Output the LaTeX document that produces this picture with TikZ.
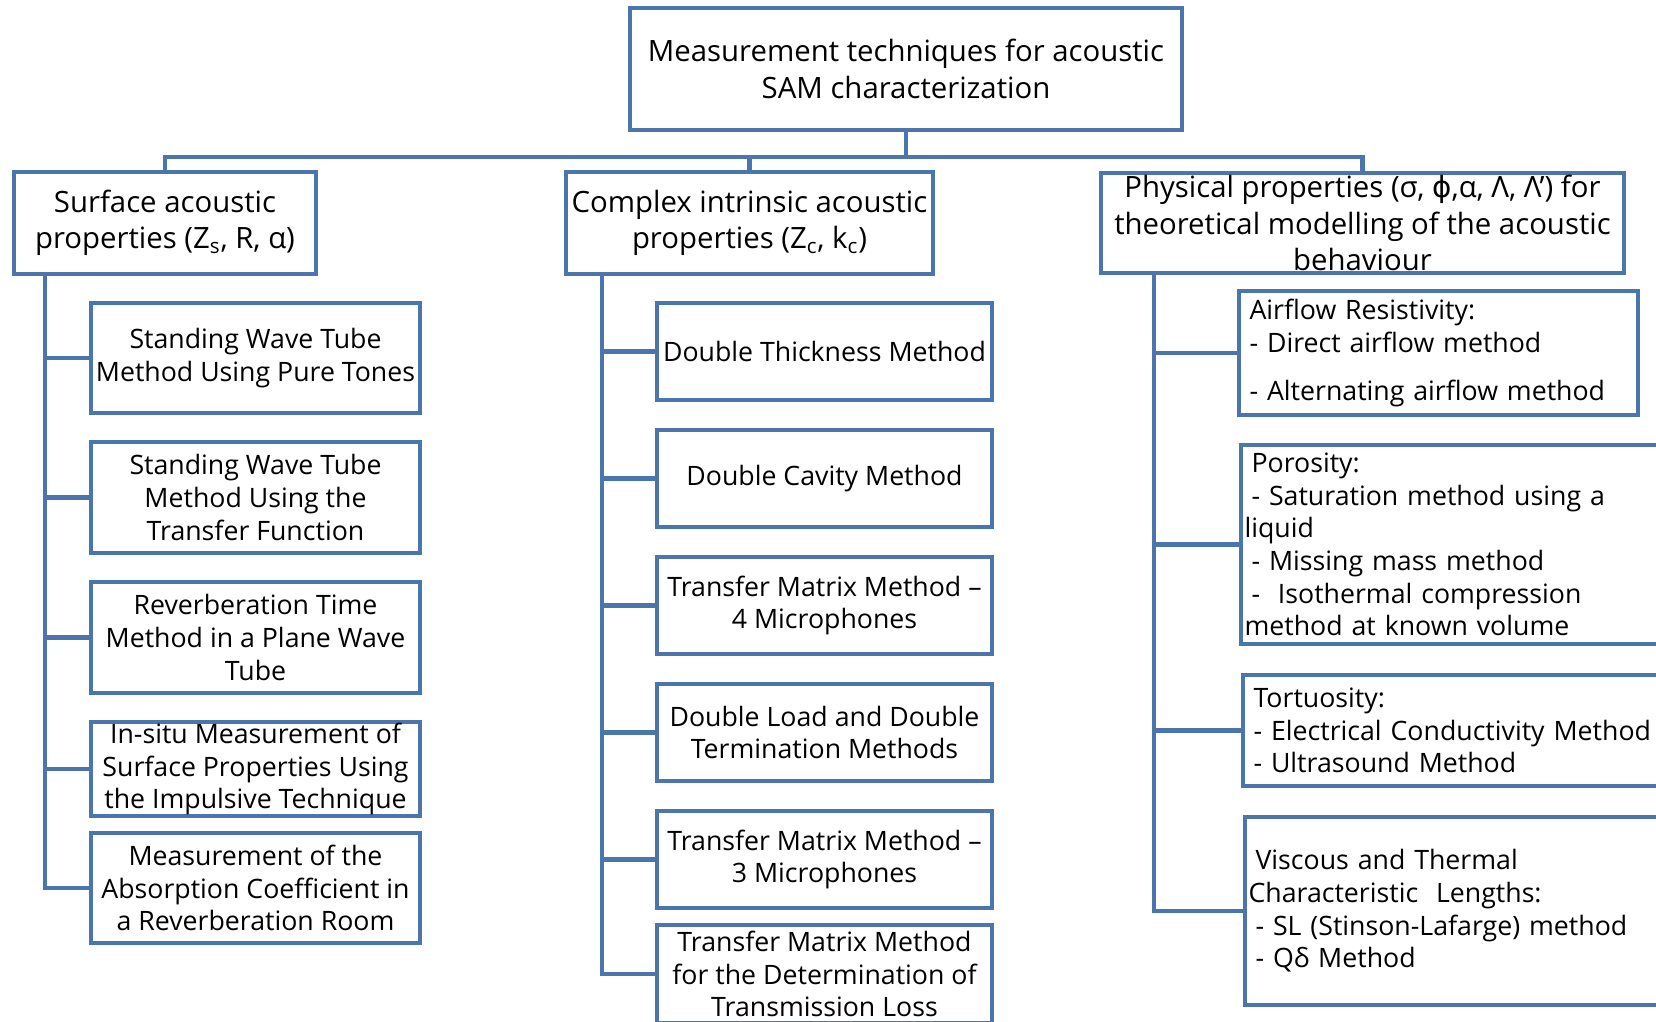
\documentclass[tikz,border=0pt]{standalone}
\usepackage{fontspec}
\setmainfont{Open Sans}
\newfontfamily\symfont{DejaVu Sans}
\usetikzlibrary{positioning}
\definecolor{boxblue}{RGB}{74,118,173}
\newcommand{\itemgap}{\hspace*{0.14cm}}

\begin{document}
\begin{tikzpicture}[x=0.02cm, y=-0.02cm]
		\tikzstyle{Box} = [rectangle, draw=boxblue, line width=2.3pt, inner xsep=1pt, inner ysep=-4pt, align=center, font=\fontsize{15.2}{18.6}\selectfont]
		\tikzstyle{Head} = [Box, font=\fontsize{16.7}{20.8}\selectfont]
		\tikzstyle{Item} = [Box, align=left, anchor=west, inner xsep=2pt]
		\tikzstyle{link} = [draw=boxblue, line width=2.3pt]
		
		\useasboundingbox (0,0) rectangle (1656,1021);
		\clip (0,0) rectangle (1656,1021);
		
		\node (top) [Head, minimum width=11.04cm, minimum height=2.44cm] at (906,69) {Measurement techniques for acoustic\\SAM characterization};
		\node (surf) [Head, minimum width=6.04cm, minimum height=2.04cm] at (165,223) {Surface acoustic\\properties (Z\textsubscript{s}, R, α)};
		\node (comp) [Head, minimum width=7.34cm, minimum height=2.04cm] at (749.5,223) {Complex intrinsic acoustic\\properties (Z\textsubscript{c}, k\textsubscript{c})};
		\node (phys) [Head, minimum width=10.46cm, minimum height=2cm] at (1362.5,223) {Physical properties (σ, {\symfont ϕ},α, Λ, Λ’) for\\theoretical modelling of the acoustic\\behaviour};
		
		\node (s1) [Box, minimum width=6.58cm, minimum height=2.2cm] at (255.5,358) {Standing Wave Tube\\Method Using Pure Tones};
		\node (s2) [Box, minimum width=6.58cm, minimum height=2.22cm] at (255.5,497.5) {Standing Wave Tube\\Method Using the\\Transfer Function};
		\node (s3) [Box, minimum width=6.58cm, minimum height=2.22cm] at (255.5,637.5) {Reverberation Time\\Method in a Plane Wave\\Tube};
		\node (s4) [Box, minimum width=6.58cm, minimum height=1.88cm] at (255.5,769) {In-situ Measurement of\\Surface Properties Using\\the Impulsive Technique};
		\node (s5) [Box, minimum width=6.58cm, minimum height=2.2cm] at (255.5,888) {Measurement of the\\Absorption Coefficient in\\a Reverberation Room};
		
		\node (c1) [Box, minimum width=6.7cm, minimum height=1.94cm] at (824.5,351.5) {Double Thickness Method};
		\node (c2) [Box, minimum width=6.7cm, minimum height=1.94cm] at (824.5,478.5) {Double Cavity Method};
		\node (c3) [Box, minimum width=6.7cm, minimum height=1.94cm] at (824.5,605.5) {Transfer Matrix Method –\\4 Microphones};
		\node (c4) [Box, minimum width=6.7cm, minimum height=1.94cm] at (824.5,732.5) {Double Load and Double\\Termination Methods};
		\node (c5) [Box, minimum width=6.7cm, minimum height=1.94cm] at (824.5,859.5) {Transfer Matrix Method –\\3 Microphones};
		\node (c6) [Box, minimum width=6.7cm, minimum height=1.96cm] at (824.5,974) {Transfer Matrix Method\\for the Determination of\\Transmission Loss};
		
		\node (p1) [Item, text width=7.84cm, minimum height=2.48cm] at (1237,353) {\itemgap Airflow Resistivity:\\\itemgap- Direct airflow method\\[0.32cm]\itemgap- Alternating airflow method};
		\node (p2) [Item, text width=8.7cm, minimum height=3.98cm] at (1239,544.5) {\itemgap Porosity:\\\itemgap- Saturation method using a\\liquid\\\itemgap- Missing mass method\\\itemgap-\ \ Isothermal compression\\method at known volume};
		\node (p3) [Item, text width=8.7cm, minimum height=2.22cm] at (1241,730.5) {\itemgap Tortuosity:\\\itemgap- Electrical Conductivity Method\\\itemgap- Ultrasound Method};
		\node (p4) [Item, text width=8.7cm, minimum height=3.76cm] at (1243,911) {\itemgap Viscous and Thermal\\Characteristic\ \ Lengths:\\\itemgap- SL (Stinson-Lafarge) method\\\itemgap- Qδ Method};
		
		% tree connectors
		\coordinate (bus) at (906,157);
		\draw [link] (top.south) -- (bus);
		\draw [link] (surf.north) |- (bus) -| (phys.north);
		\draw [link] (comp.north) -- (comp.north |- bus);
		
		\coordinate (sx) at (45,274);
		\coordinate (cx) at (602,274);
		\coordinate (px) at (1154,273);
		\draw [link] (sx) |- (s5.west);
		\draw [link] (cx) |- (c6.west);
		\draw [link] (px) |- (p4.west);
		\foreach \n in {s1,s2,s3,s4} \draw [link] (\n.west -| sx) -- (\n.west);
		\foreach \n in {c1,c2,c3,c4,c5} \draw [link] (\n.west -| cx) -- (\n.west);
		\foreach \n in {p1,p2,p3} \draw [link] (\n.west -| px) -- (\n.west);
\end{tikzpicture}
\end{document}
